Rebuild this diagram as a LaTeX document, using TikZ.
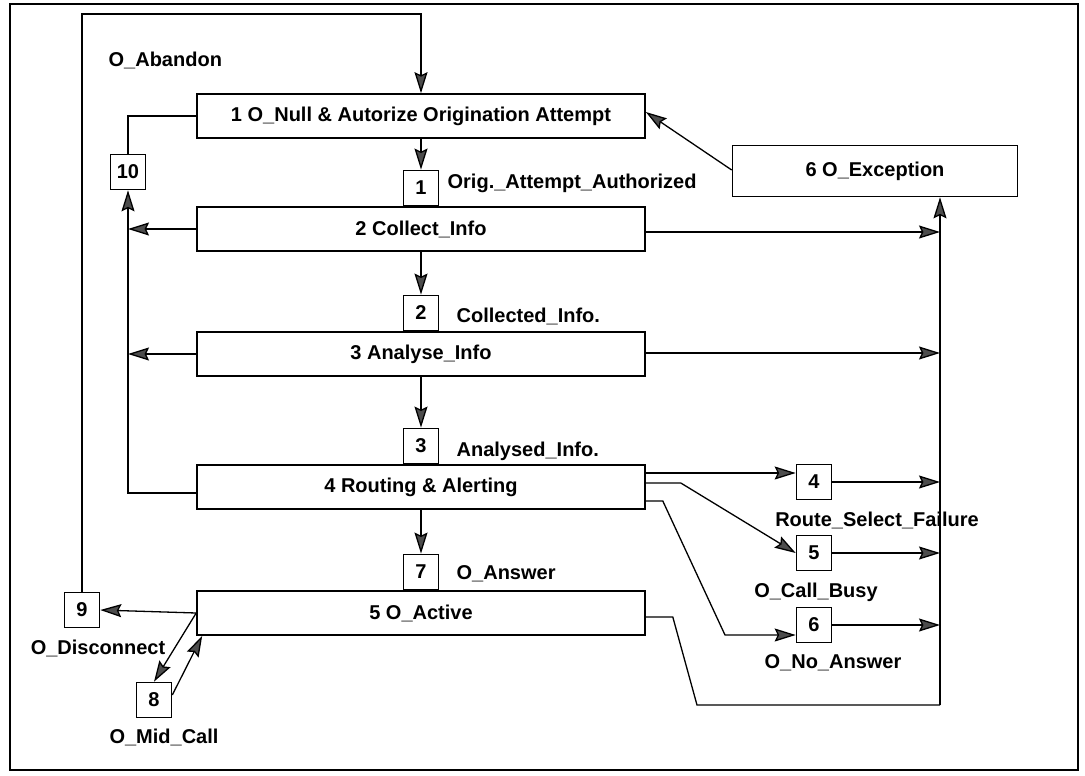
\documentclass[tikz,border=0pt]{standalone}
\usepackage{fontspec}
\setmainfont{Liberation Sans}
\usetikzlibrary{positioning,arrows.meta}
\tikzset{
  phase/.style={draw, line width=1.6pt, minimum width=448pt, minimum height=44pt, inner sep=0pt},
  pic/.style={draw, line width=1.6pt, minimum size=35pt, inner sep=0pt},
  lbl/.style={inner sep=0pt}
}
\begin{document}
\begin{tikzpicture}[x=1pt, y=-1pt, >={Stealth[length=21pt,width=13pt,inset=3pt,fill=black!70]}, line width=1.3pt,
  font=\fontsize{20}{24}\selectfont\bfseries]
\useasboundingbox (0,0) rectangle (1085,776);
\draw[line width=2.2pt](10,4) rectangle (1078,770);
% phases
\node[phase] (n1) at (421,116) {1 O\_Null \& Autorize Origination Attempt};
\node[phase] (n2) at (421,229) {2 Collect\_Info};
\node[phase] (n3) at (421,354) {3 Analyse\_Info};
\node[phase] (n4) at (421,487) {4 Routing \& Alerting};
\node[phase] (n5) at (421,613) {5 O\_Active};
\node[phase, minimum width=285pt, minimum height=51pt] (exc) at (875,171) {6 O\_Exception};
% detection points
\node[pic, above=0pt of n2] (p1) {1};
\node[pic, above=0pt of n3] (p2) {2};
\node[pic, above=0pt of n4] (p3) {3};
\node[pic, above=0pt of n5] (p7) {7};
\node[pic] (p10) at (128,172) {10};
\node[pic] (p9) at (82,610) {9};
\node[pic] (p8) at (154,700) {8};
\node[pic] (p4) at (814,482) {4};
\node[pic] (p5) at (814,553) {5};
\node[pic] (p6) at (814,625) {6};
% labels
\node[lbl, anchor=west] at (447,183) {Orig.\_Attempt\_Authorized};
\node[lbl, anchor=west] at (456,316) {Collected\_Info.};
\node[lbl, anchor=west] at (456,451) {Analysed\_Info.};
\node[lbl, anchor=west] at (456,574) {O\_Answer};
\node[lbl, anchor=west] at (108,60) {O\_Abandon};
\node[lbl] at (877,520) {Route\_Select\_Failure};
\node[lbl] at (816,592) {O\_Call\_Busy};
\node[lbl] at (833,663) {O\_No\_Answer};
\node[lbl] at (98,648) {O\_Disconnect};
\node[lbl] at (164,737) {O\_Mid\_Call};
% main flow
\draw[->](n1)--(p1);
\draw[->](n2)--(p2);
\draw[->](n3)--(p3);
\draw[->](n4)--(p7);
% abandon
\draw(n1.west)-|(p10.north);
\draw[->](n2.west)--(n2.west-|p10.south);
\draw[->](n3.west)--(n3.west-|p10.south);
\draw[->]([yshift=-6pt]n4.west)-|(p10.south);
% disconnect and mid call
\coordinate (top) at (421,14);
\draw[->](p9.north)|-(top)--(n1.north);
\draw[->](n5.west)--(p9.east);
\draw[->](n5.west)--(p8.north);
\draw[->]([yshift=5pt]p8.east)--([xshift=6pt]n5.south west);
% exceptions
\coordinate (bus) at (940,705);
\draw[->](bus)--(bus|-exc.south);
\draw[->]([yshift=1pt]exc.west)--([yshift=4pt]n1.east);
\draw[->]([yshift=-3pt]n2.east)--([yshift=-3pt]n2.east-|bus);
\draw[->]([yshift=1pt]n3.east)--([yshift=1pt]n3.east-|bus);
\draw[->](p4.east)--(p4.east-|bus);
\draw[->](p5.east)--(p5.east-|bus);
\draw[->](p6.east)--(p6.east-|bus);
\draw([yshift=-4pt]n5.east)--++(27,0)--(697,705)--(bus);
% routing failures
\draw[->]([yshift=14pt]n4.east)--([yshift=14pt]n4.east-|p4.west);
\draw[->]([yshift=4pt]n4.east)--++(35,0)--(p5.west);
\draw[->]([yshift=-14pt]n4.east)--++(17,0)--(725,635)--([yshift=-10pt]p6.west);
\end{tikzpicture}
\end{document}
